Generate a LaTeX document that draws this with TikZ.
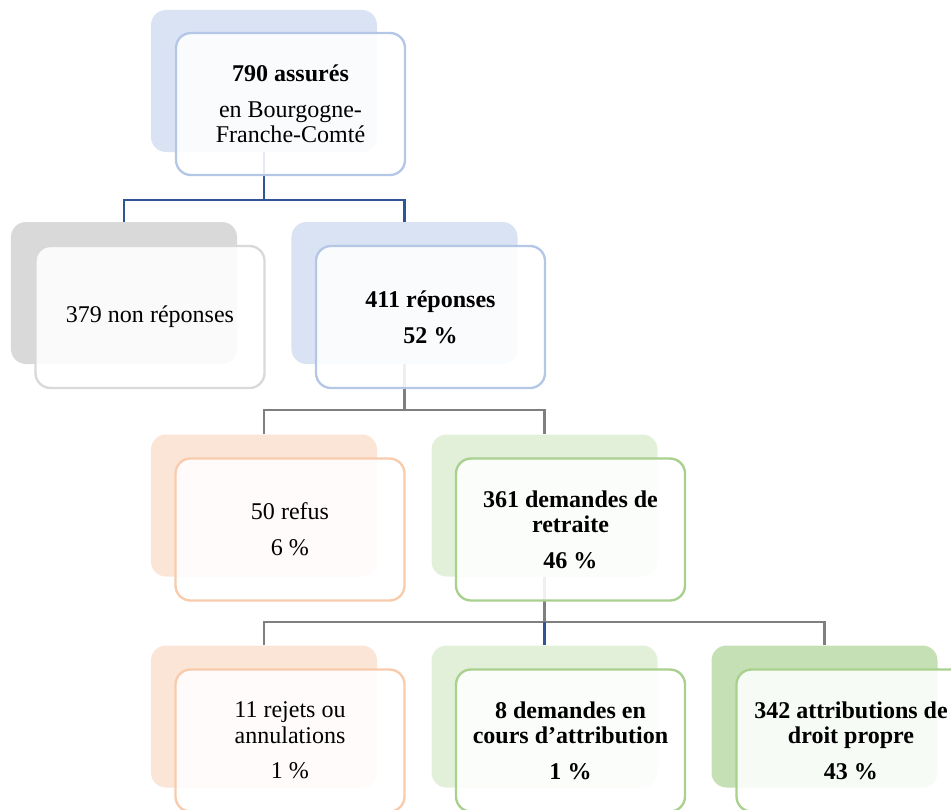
\documentclass[tikz,border=0pt]{standalone}
\usepackage{fontspec}
\setmainfont{Liberation Serif}
\usetikzlibrary{positioning}
\definecolor{blueback}{HTML}{DAE3F3}
\definecolor{blueline}{HTML}{B4C7E7}
\definecolor{darkblue}{HTML}{2F5597}
\definecolor{grayback}{HTML}{D9D9D9}
\definecolor{grayline}{HTML}{D9D9D9}
\definecolor{orangeback}{HTML}{FBE5D6}
\definecolor{orangeline}{HTML}{F8CBAD}
\definecolor{greenback}{HTML}{E2F0D9}
\definecolor{greendark}{HTML}{C5E0B4}
\definecolor{greenline}{HTML}{A9D18E}
\definecolor{linegray}{HTML}{7F7F7F}

\begin{document}
\begin{tikzpicture}[x=0.03cm,y=-0.03cm,
    backbox/.style={rounded corners=0.45cm, minimum width=6.78cm, minimum height=4.26cm, inner sep=0pt},
    frontbox/.style={rounded corners=0.45cm, draw, line width=2pt, fill=white, fill opacity=0.88, text opacity=1,
        minimum width=6.87cm, minimum height=4.26cm, inner sep=0pt, align=center, font=\fontsize{20.5}{21.5}\selectfont},
    link/.style={line width=2.4pt, draw=linegray},
    linkblue/.style={line width=2.4pt, draw=darkblue}]
    \useasboundingbox (0,0) rectangle (951,809);
    \clip (0,0) rectangle (951,809);

    % back boxes
    \node[backbox, fill=blueback] (topb) at (264,81) {};
    \node[backbox, fill=grayback] (nonb) at (124,293) {};
    \node[backbox, fill=blueback] (repb) at (404.5,293) {};
    \node[backbox, fill=orangeback] (refb) at (264,505.5) {};
    \node[backbox, fill=greenback] (demb) at (544.5,505.5) {};
    \node[backbox, fill=orangeback] (rejb) at (264,716.5) {};
    \node[backbox, fill=greenback] (coub) at (544.5,716.5) {};
    \node[backbox, fill=greendark] (attb) at (824.5,716.5) {};

    % connectors
    \coordinate (j1) at (264,200);
    \coordinate (j2) at (404.5,410);
    \coordinate (j3) at (544.5,622);
    \draw[linkblue] (topb.south) -- (j1);
    \draw[linkblue] (nonb.north) |- (j1) -| (repb.north);
    \draw[link] (repb.south) -- (j2);
    \draw[link] (refb.north) |- (j2) -| (demb.north);
    \draw[link] (demb.south) -- (j3);
    \draw[link] (rejb.north) |- (j3) -| (attb.north);
    \draw[linkblue] (j3) -- (coub.north);

    % front boxes
    \node[frontbox, draw=blueline] (topf) at (290.5,104) {\textbf{790 assurés}\\[9pt]en Bourgogne-\\Franche-Comté};
    \node[frontbox, draw=grayline] (nonf) at (150,317) {379 non réponses};
    \node[frontbox, draw=blueline] (repf) at (430.5,317) {\textbf{411 réponses}\\[9pt]\textbf{52 \%}};
    \node[frontbox, draw=orangeline] (reff) at (290,529.5) {50 refus\\[9pt]6 \%};
    \node[frontbox, draw=greenline] (demf) at (570.5,529.5) {\textbf{361 demandes de}\\\textbf{retraite}\\[9pt]\textbf{46 \%}};
    \node[frontbox, draw=orangeline] (rejf) at (290,740.5) {11 rejets ou\\annulations\\[9pt]1 \%};
    \node[frontbox, draw=greenline] (couf) at (570.5,740.5) {\textbf{8 demandes en}\\\textbf{cours d’attribution}\\[9pt]\textbf{1 \%}};
    \node[frontbox, draw=greenline] (attf) at (851,740.5) {\textbf{342 attributions de}\\\textbf{droit propre}\\[9pt]\textbf{43 \%}};
\end{tikzpicture}
\end{document}
